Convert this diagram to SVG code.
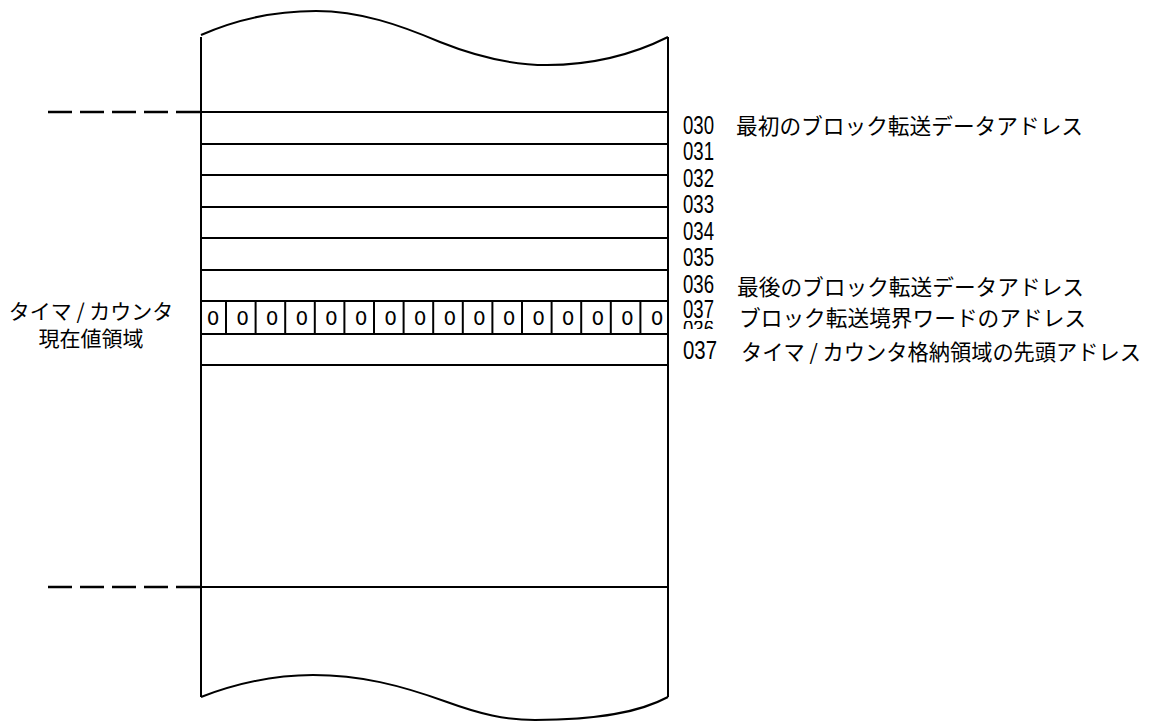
<svg xmlns="http://www.w3.org/2000/svg" width="1153" height="722" viewBox="0 0 1153 722">
<style>
.ln{stroke:#000;stroke-width:2;fill:none}
.dash{stroke:#000;stroke-width:2.5;fill:none;stroke-dasharray:24 8}
.num{font-family:"Liberation Sans",Arial,sans-serif;font-size:25px;fill:#000}
.jp{font-family:"Noto Sans CJK JP",sans-serif;font-size:21.7px;fill:#000}
.lab{font-family:"Noto Sans CJK JP",sans-serif;font-size:21px;fill:#000;text-anchor:middle}
.z{font-family:"DejaVu Sans",sans-serif;font-size:20px;fill:#000;text-anchor:middle}
</style>
<defs>
<clipPath id="clipBottom"><rect x="670" y="321" width="60" height="8"/></clipPath>
</defs>
<rect width="1153" height="722" fill="#fff"/>
<g id="sheet">
<path class="ln" d="M201,35 C235,20 275,11 316,11 C360,11 400,25 440,42 C480,58 515,65 547,65 C590,65 630,56 668,37"/>
<path class="ln" d="M201,697 C235,684 275,675 313,675 C360,675 400,685 447,702 C480,714 505,720 535,720 C600,720 640,712 668,697"/>
<line class="ln" x1="201" y1="37" x2="201" y2="697"/>
<line class="ln" x1="668" y1="37" x2="668" y2="697"/>
</g>
<g id="rows">
<line class="dash" x1="48" y1="112" x2="201" y2="112"/>
<line class="ln" x1="201" y1="112" x2="668" y2="112"/>
<line class="ln" x1="201" y1="144" x2="668" y2="144"/>
<line class="ln" x1="201" y1="175" x2="668" y2="175"/>
<line class="ln" x1="201" y1="207" x2="668" y2="207"/>
<line class="ln" x1="201" y1="238" x2="668" y2="238"/>
<line class="ln" x1="201" y1="270" x2="668" y2="270"/>
<line class="ln" x1="201" y1="301" x2="668" y2="301"/>
<line class="ln" x1="201" y1="334" x2="668" y2="334"/>
<line class="ln" x1="201" y1="365" x2="668" y2="365"/>
<line class="dash" x1="48" y1="587" x2="201" y2="587"/>
<line class="ln" x1="201" y1="587" x2="668" y2="587"/>
</g>
<g id="zero-word">
<g class="ln">
<line x1="226" y1="301" x2="226" y2="334"/>
<line x1="255.6" y1="301" x2="255.6" y2="334"/>
<line x1="285.2" y1="301" x2="285.2" y2="334"/>
<line x1="314.8" y1="301" x2="314.8" y2="334"/>
<line x1="344.4" y1="301" x2="344.4" y2="334"/>
<line x1="374" y1="301" x2="374" y2="334"/>
<line x1="403.6" y1="301" x2="403.6" y2="334"/>
<line x1="433.2" y1="301" x2="433.2" y2="334"/>
<line x1="462.8" y1="301" x2="462.8" y2="334"/>
<line x1="492.4" y1="301" x2="492.4" y2="334"/>
<line x1="522" y1="301" x2="522" y2="334"/>
<line x1="551.6" y1="301" x2="551.6" y2="334"/>
<line x1="581.2" y1="301" x2="581.2" y2="334"/>
<line x1="610.8" y1="301" x2="610.8" y2="334"/>
<line x1="640.4" y1="301" x2="640.4" y2="334"/>
</g>
<text class="z" x="213" y="325">0</text>
<text class="z" x="242.6" y="325">0</text>
<text class="z" x="272.2" y="325">0</text>
<text class="z" x="301.8" y="325">0</text>
<text class="z" x="331.4" y="325">0</text>
<text class="z" x="361" y="325">0</text>
<text class="z" x="390.6" y="325">0</text>
<text class="z" x="420.2" y="325">0</text>
<text class="z" x="449.8" y="325">0</text>
<text class="z" x="479.4" y="325">0</text>
<text class="z" x="509" y="325">0</text>
<text class="z" x="538.6" y="325">0</text>
<text class="z" x="568.2" y="325">0</text>
<text class="z" x="597.8" y="325">0</text>
<text class="z" x="627.4" y="325">0</text>
<text class="z" x="657" y="325">0</text>
</g>
<g id="left-label">
<text class="lab" x="91" y="319">タイマ / カウンタ</text>
<text class="lab" x="91" y="346">現在値領域</text>
</g>
<g id="addresses">
<text class="num" x="683" y="134" textLength="31" lengthAdjust="spacingAndGlyphs">030</text>
<text class="num" x="683" y="160" textLength="31" lengthAdjust="spacingAndGlyphs">031</text>
<text class="num" x="683" y="187" textLength="31" lengthAdjust="spacingAndGlyphs">032</text>
<text class="num" x="683" y="213" textLength="31" lengthAdjust="spacingAndGlyphs">033</text>
<text class="num" x="683" y="240" textLength="31" lengthAdjust="spacingAndGlyphs">034</text>
<text class="num" x="683" y="266" textLength="31" lengthAdjust="spacingAndGlyphs">035</text>
<text class="num" x="683" y="293" textLength="31" lengthAdjust="spacingAndGlyphs">036</text>
<text class="num" x="683" y="338" textLength="31" lengthAdjust="spacingAndGlyphs" clip-path="url(#clipBottom)">036</text>
<text class="num" x="683" y="318" textLength="31" lengthAdjust="spacingAndGlyphs">037</text>
<text class="num" x="683" y="359" textLength="34" lengthAdjust="spacingAndGlyphs">037</text>
</g>
<g id="descriptions">
<text class="jp" x="736" y="134">最初のブロック転送データアドレス</text>
<text class="jp" x="737" y="295">最後のブロック転送データアドレス</text>
<text class="jp" x="739" y="326">ブロック転送境界ワードのアドレス</text>
<text class="jp" x="741" y="360" textLength="400" lengthAdjust="spacingAndGlyphs">タイマ / カウンタ格納領域の先頭アドレス</text>
</g>
</svg>
